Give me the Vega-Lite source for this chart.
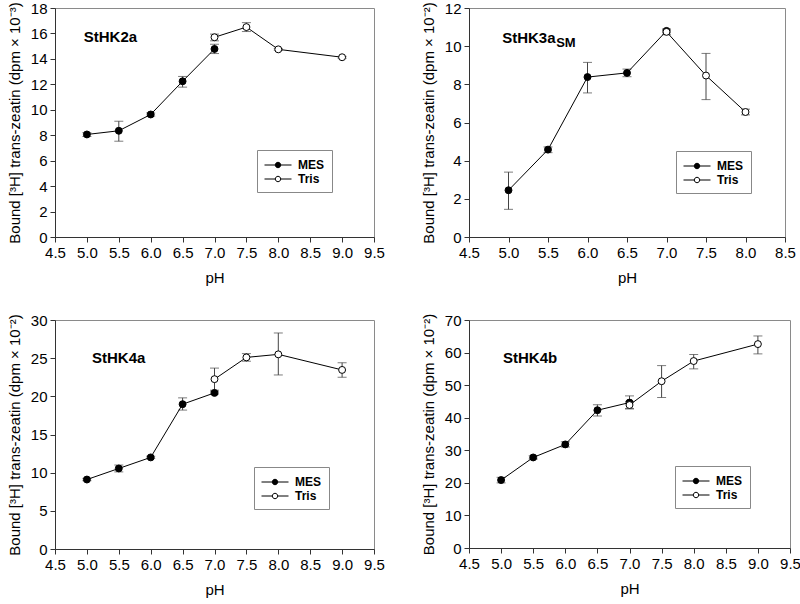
{
  "$schema": "https://vega.github.io/schema/vega-lite/v6.json",
  "padding": {"left": 6, "top": 0, "right": 2, "bottom": 2},
  "background": "white",
  "columns": 2,
  "spacing": {"column": 35, "row": 26},
  "resolve": {"scale": {"fill": "independent", "x": "independent", "y": "independent"}, "legend": {"fill": "independent"}},
  "config": {
    "font": "Liberation Sans",
    "view": {"stroke": "#8a8a8a", "strokeWidth": 1},
    "axis": {"grid": false, "domainColor": "#333", "tickColor": "#333", "tickSize": 5, "labelFontSize": 15, "labelColor": "black", "titleFontSize": 15, "titleFontWeight": "normal", "titleColor": "black", "labelPadding": 3, "labelFlush": false, "labelOverlap": false},
    "axisY": {"titlePadding": 8, "labelOverlap": false},
    "axisX": {"titlePadding": 10},
    "legend": {"orient": "none", "title": null, "symbolType": "M-1.8,0H-0.36M0.36,0H1.8M0.36,0A0.36,0.36,0,1,1,-0.36,0A0.36,0.36,0,1,1,0.36,0Z", "symbolSize": 225, "symbolOffset": 6, "symbolStrokeColor": "black", "symbolStrokeWidth": 1, "labelFontWeight": "bold", "labelFontSize": 12, "labelColor": "black", "strokeColor": "#888", "fillColor": "white", "padding": 7, "rowPadding": 0, "labelOffset": 12}
  },
  "datasets": {
    "hk2a": [
      {"buffer": "MES", "pH": 5.0, "v": 8.06, "lo": 7.9, "hi": 8.2},
      {"buffer": "MES", "pH": 5.5, "v": 8.35, "lo": 7.53, "hi": 9.1},
      {"buffer": "MES", "pH": 6.0, "v": 9.63, "lo": 9.5, "hi": 9.75},
      {"buffer": "MES", "pH": 6.5, "v": 12.24, "lo": 11.78, "hi": 12.62},
      {"buffer": "MES", "pH": 7.0, "v": 14.78, "lo": 14.42, "hi": 15.15},
      {"buffer": "Tris", "pH": 7.0, "v": 15.7, "lo": 15.42, "hi": 15.95},
      {"buffer": "Tris", "pH": 7.5, "v": 16.5, "lo": 16.15, "hi": 16.85},
      {"buffer": "Tris", "pH": 8.0, "v": 14.75, "lo": 14.68, "hi": 14.82},
      {"buffer": "Tris", "pH": 9.0, "v": 14.13, "lo": 14.05, "hi": 14.2}
    ],
    "hk3a": [
      {"buffer": "MES", "pH": 5.0, "v": 2.45, "lo": 1.45, "hi": 3.4},
      {"buffer": "MES", "pH": 5.5, "v": 4.58, "lo": 4.42, "hi": 4.72},
      {"buffer": "MES", "pH": 6.0, "v": 8.38, "lo": 7.55, "hi": 9.15},
      {"buffer": "MES", "pH": 6.5, "v": 8.6, "lo": 8.4, "hi": 8.8},
      {"buffer": "MES", "pH": 7.0, "v": 10.8, "lo": 10.7, "hi": 10.9},
      {"buffer": "Tris", "pH": 7.0, "v": 10.75, "lo": 10.6, "hi": 10.85},
      {"buffer": "Tris", "pH": 7.5, "v": 8.46, "lo": 7.2, "hi": 9.62},
      {"buffer": "Tris", "pH": 8.0, "v": 6.55, "lo": 6.4, "hi": 6.7}
    ],
    "hk4a": [
      {"buffer": "MES", "pH": 5.0, "v": 9.1, "lo": 8.95, "hi": 9.25},
      {"buffer": "MES", "pH": 5.5, "v": 10.55, "lo": 10.1, "hi": 11.0},
      {"buffer": "MES", "pH": 6.0, "v": 12.0, "lo": 11.85, "hi": 12.15},
      {"buffer": "MES", "pH": 6.5, "v": 18.97, "lo": 18.2, "hi": 19.8},
      {"buffer": "MES", "pH": 7.0, "v": 20.45, "lo": 20.3, "hi": 20.6},
      {"buffer": "Tris", "pH": 7.0, "v": 22.25, "lo": 20.8, "hi": 23.7},
      {"buffer": "Tris", "pH": 7.5, "v": 25.1, "lo": 24.6, "hi": 25.6},
      {"buffer": "Tris", "pH": 8.0, "v": 25.5, "lo": 22.8, "hi": 28.3},
      {"buffer": "Tris", "pH": 9.0, "v": 23.46, "lo": 22.5, "hi": 24.4}
    ],
    "hk4b": [
      {"buffer": "MES", "pH": 5.0, "v": 20.85, "lo": 20.0, "hi": 21.7},
      {"buffer": "MES", "pH": 5.5, "v": 27.8, "lo": 27.3, "hi": 28.3},
      {"buffer": "MES", "pH": 6.0, "v": 31.8, "lo": 31.0, "hi": 32.6},
      {"buffer": "MES", "pH": 6.5, "v": 42.3, "lo": 40.5, "hi": 44.0},
      {"buffer": "MES", "pH": 7.0, "v": 44.65, "lo": 42.8, "hi": 46.7},
      {"buffer": "Tris", "pH": 7.0, "v": 43.9, "lo": 42.7, "hi": 45.0},
      {"buffer": "Tris", "pH": 7.5, "v": 51.2, "lo": 46.2, "hi": 56.0},
      {"buffer": "Tris", "pH": 8.0, "v": 57.4, "lo": 55.0, "hi": 59.4},
      {"buffer": "Tris", "pH": 9.0, "v": 62.6, "lo": 59.6, "hi": 65.1}
    ]
  },
  "concat": [
    {
      "width": 319, "height": 229,
      "data": {"name": "hk2a"},
      "encoding": {
        "x": {"field": "pH", "type": "quantitative", "title": "pH", "scale": {"domain": [4.5, 9.5], "nice": false, "zero": false}, "axis": {"values": [4.5, 5, 5.5, 6, 6.5, 7, 7.5, 8, 8.5, 9, 9.5], "format": ".1f"}},
        "y": {"field": "v", "type": "quantitative", "title": "Bound [³H] trans-zeatin (dpm × 10⁻³)", "scale": {"domain": [0, 18], "nice": false}, "axis": {"values": [0, 2, 4, 6, 8, 10, 12, 14, 16, 18], "labelOverlap": false, "labelFlush": false}}
      },
      "layer": [
        {"mark": {"type": "errorbar", "ticks": {"size": 9, "color": "#444"}, "rule": {"color": "#444"}},
         "encoding": {"y": {"field": "lo", "type": "quantitative", "title": "Bound [³H] trans-zeatin (dpm × 10⁻³)", "axis": {"values": [0, 2, 4, 6, 8, 10, 12, 14, 16, 18], "labelOverlap": false, "labelFlush": false}}, "y2": {"field": "hi"}}},
        {"mark": {"type": "line", "color": "black", "strokeWidth": 1},
         "encoding": {"detail": {"field": "buffer"}}},
        {"mark": {"type": "point", "filled": true, "size": 48, "stroke": "black", "strokeWidth": 1, "opacity": 1},
         "encoding": {"fill": {"field": "buffer", "type": "nominal", "scale": {"domain": ["MES", "Tris"], "range": ["black", "white"]}, "legend": {"legendX": 202, "legendY": 142}}}},
        {"data": {"values": [{"label": "StHK2a", "v": 15.7, "pH": 4.95}]},
         "mark": {"type": "text", "align": "left", "baseline": "middle", "fontWeight": "bold", "fontSize": 15, "color": "black"},
         "encoding": {"text": {"field": "label"}}}
      ]
    },
    {
      "width": 316, "height": 229,
      "data": {"name": "hk3a"},
      "encoding": {
        "x": {"field": "pH", "type": "quantitative", "title": "pH", "scale": {"domain": [4.5, 8.5], "nice": false, "zero": false}, "axis": {"values": [4.5, 5, 5.5, 6, 6.5, 7, 7.5, 8, 8.5], "format": ".1f"}},
        "y": {"field": "v", "type": "quantitative", "title": "Bound [³H] trans-zeatin (dpm × 10⁻²)", "scale": {"domain": [0, 12], "nice": false}, "axis": {"values": [0, 2, 4, 6, 8, 10, 12], "labelOverlap": false, "labelFlush": false}}
      },
      "layer": [
        {"mark": {"type": "errorbar", "ticks": {"size": 9, "color": "#444"}, "rule": {"color": "#444"}},
         "encoding": {"y": {"field": "lo", "type": "quantitative", "title": "Bound [³H] trans-zeatin (dpm × 10⁻²)", "axis": {"values": [0, 2, 4, 6, 8, 10, 12], "labelOverlap": false, "labelFlush": false}}, "y2": {"field": "hi"}}},
        {"mark": {"type": "line", "color": "black", "strokeWidth": 1},
         "encoding": {"detail": {"field": "buffer"}}},
        {"mark": {"type": "point", "filled": true, "size": 48, "stroke": "black", "strokeWidth": 1, "opacity": 1},
         "encoding": {"fill": {"field": "buffer", "type": "nominal", "scale": {"domain": ["MES", "Tris"], "range": ["black", "white"]}, "legend": {"legendX": 207, "legendY": 143}}}},
        {"data": {"values": [{"label": "StHK3a", "sub": "SM", "v": 10.43, "pH": 4.92}]},
         "layer": [
           {"mark": {"type": "text", "align": "left", "baseline": "middle", "fontWeight": "bold", "fontSize": 15, "color": "black"},
            "encoding": {"text": {"field": "label"}}},
           {"mark": {"type": "text", "align": "left", "baseline": "middle", "fontWeight": "bold", "fontSize": 13, "color": "black", "dx": 54, "dy": 5},
            "encoding": {"text": {"field": "sub"}}}
         ]}
      ]
    },
    {
      "width": 319, "height": 229,
      "data": {"name": "hk4a"},
      "encoding": {
        "x": {"field": "pH", "type": "quantitative", "title": "pH", "scale": {"domain": [4.5, 9.5], "nice": false, "zero": false}, "axis": {"values": [4.5, 5, 5.5, 6, 6.5, 7, 7.5, 8, 8.5, 9, 9.5], "format": ".1f"}},
        "y": {"field": "v", "type": "quantitative", "title": "Bound [³H] trans-zeatin (dpm × 10⁻²)", "scale": {"domain": [0, 30], "nice": false}, "axis": {"values": [0, 5, 10, 15, 20, 25, 30], "labelOverlap": false, "labelFlush": false}}
      },
      "layer": [
        {"mark": {"type": "errorbar", "ticks": {"size": 9, "color": "#444"}, "rule": {"color": "#444"}},
         "encoding": {"y": {"field": "lo", "type": "quantitative", "title": "Bound [³H] trans-zeatin (dpm × 10⁻²)", "axis": {"values": [0, 5, 10, 15, 20, 25, 30], "labelOverlap": false, "labelFlush": false}}, "y2": {"field": "hi"}}},
        {"mark": {"type": "line", "color": "black", "strokeWidth": 1},
         "encoding": {"detail": {"field": "buffer"}}},
        {"mark": {"type": "point", "filled": true, "size": 48, "stroke": "black", "strokeWidth": 1, "opacity": 1},
         "encoding": {"fill": {"field": "buffer", "type": "nominal", "scale": {"domain": ["MES", "Tris"], "range": ["black", "white"]}, "legend": {"legendX": 199, "legendY": 147}}}},
        {"data": {"values": [{"label": "StHK4a", "v": 25.0, "pH": 5.08}]},
         "mark": {"type": "text", "align": "left", "baseline": "middle", "fontWeight": "bold", "fontSize": 15, "color": "black"},
         "encoding": {"text": {"field": "label"}}}
      ]
    },
    {
      "width": 321, "height": 228,
      "data": {"name": "hk4b"},
      "encoding": {
        "x": {"field": "pH", "type": "quantitative", "title": "pH", "scale": {"domain": [4.5, 9.5], "nice": false, "zero": false}, "axis": {"values": [4.5, 5, 5.5, 6, 6.5, 7, 7.5, 8, 8.5, 9, 9.5], "format": ".1f"}},
        "y": {"field": "v", "type": "quantitative", "title": "Bound [³H] trans-zeatin (dpm × 10⁻²)", "scale": {"domain": [0, 70], "nice": false}, "axis": {"values": [0, 10, 20, 30, 40, 50, 60, 70], "labelOverlap": false, "labelFlush": false}}
      },
      "layer": [
        {"mark": {"type": "errorbar", "ticks": {"size": 9, "color": "#444"}, "rule": {"color": "#444"}},
         "encoding": {"y": {"field": "lo", "type": "quantitative", "title": "Bound [³H] trans-zeatin (dpm × 10⁻²)", "axis": {"values": [0, 10, 20, 30, 40, 50, 60, 70], "labelOverlap": false, "labelFlush": false}}, "y2": {"field": "hi"}}},
        {"mark": {"type": "line", "color": "black", "strokeWidth": 1},
         "encoding": {"detail": {"field": "buffer"}}},
        {"mark": {"type": "point", "filled": true, "size": 48, "stroke": "black", "strokeWidth": 1, "opacity": 1},
         "encoding": {"fill": {"field": "buffer", "type": "nominal", "scale": {"domain": ["MES", "Tris"], "range": ["black", "white"]}, "legend": {"legendX": 206, "legendY": 146}}}},
        {"data": {"values": [{"label": "StHK4b", "v": 58.3, "pH": 5.03}]},
         "mark": {"type": "text", "align": "left", "baseline": "middle", "fontWeight": "bold", "fontSize": 15, "color": "black"},
         "encoding": {"text": {"field": "label"}}}
      ]
    }
  ]
}
